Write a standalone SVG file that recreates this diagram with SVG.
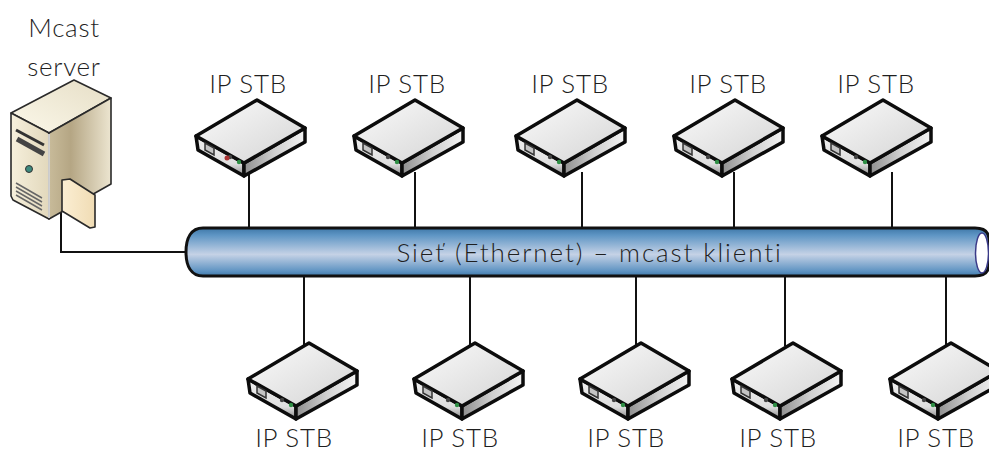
<svg xmlns="http://www.w3.org/2000/svg" width="989" height="452" viewBox="0 0 989 452">
<style>
text{font-family:"Lato","Open Sans","Liberation Sans",sans-serif;font-size:26px;fill:#1f1f1f;text-anchor:middle;font-weight:300;letter-spacing:.7px}
.w{fill:none;stroke:#111;stroke-width:2}
.o{stroke:#0c0c0c;stroke-width:3.500;stroke-linejoin:round}
.s{stroke:#2a2a2a;stroke-width:1.600;stroke-linejoin:round}
</style>
<defs>
<linearGradient id="pipe" x1="0" y1="0" x2="0" y2="1"><stop offset="0" stop-color="#3f78a8"/><stop offset=".15" stop-color="#5e95c4"/><stop offset=".55" stop-color="#c5d2e6"/><stop offset=".9" stop-color="#5e93c2"/><stop offset="1" stop-color="#3f78a8"/></linearGradient>
<linearGradient id="top" x1="0" y1="0" x2="1" y2="1"><stop offset="0" stop-color="#fbfbfb"/><stop offset="1" stop-color="#d4d4d4"/></linearGradient>
<linearGradient id="side" x1="0" y1="0" x2="1" y2="0"><stop offset="0" stop-color="#8f8f8f"/><stop offset=".5" stop-color="#cfcfcf"/><stop offset="1" stop-color="#f4f4f4"/></linearGradient>
<linearGradient id="front" x1="0" y1="0" x2="0" y2="1"><stop offset="0" stop-color="#f0f0f0"/><stop offset=".7" stop-color="#dedede"/><stop offset="1" stop-color="#888"/></linearGradient>
<linearGradient id="stop" x1="0" y1="1" x2="1" y2="0"><stop offset="0" stop-color="#fbf8ea"/><stop offset="1" stop-color="#e6dec6"/></linearGradient>
<linearGradient id="sside" x1="0" y1="0" x2="1" y2="0"><stop offset="0" stop-color="#c8bb9a"/><stop offset=".35" stop-color="#b5a684"/><stop offset="1" stop-color="#ece5d0"/></linearGradient>
<linearGradient id="sfront" x1="0" y1="0" x2="1" y2="0"><stop offset="0" stop-color="#f6f0dc"/><stop offset="1" stop-color="#e2d8bc"/></linearGradient>
<linearGradient id="card" x1="0" y1="0" x2="1" y2="0"><stop offset="0" stop-color="#fbeed3"/><stop offset="1" stop-color="#f0dcb4"/></linearGradient>
<symbol id="stb" width="112" height="80" viewBox="0 0 112 80" overflow="visible">
<path class="o" fill="url(#front)" d="M0 36L2 50L48 76V63Z"/>
<path class="o" fill="url(#side)" d="M48 63L109 28V42L48 76Z"/>
<path class="o" fill="url(#top)" d="M0 36L61 0L109 28L48 63Z"/>
<path d="M9 43L18 48V55L9 50Z" fill="#c4c4c4" stroke="#333" stroke-width="1.500"/>
<circle cx="34" cy="57" r="2.200" fill="#444"/><circle cx="43" cy="62" r="2.200" fill="#2f8f45"/>
</symbol>
</defs>
<g id="connectors">
<path class="w" d="M61 182V252H187"/>
<path class="w" d="M249 172V229M415 172V229M582 172V229M734 172V229M892 172V229M304 275V346M470 275V346M636 275V346M785 275V346M946 275V346"/>
</g>
<g id="network">
<path fill="url(#pipe)" stroke="#111" stroke-width="3" d="M203 228H975Q989 228 989 240V264Q989 276 975 276H203C191 276 186 266 186 252C186 238 191 228 203 228Z"/>
<ellipse cx="982" cy="253" rx="6.500" ry="20" fill="#fff" stroke="#3a3a88" stroke-width="1.500"/>
<text x="589" y="262" textLength="385" lengthAdjust="spacing">Sieť (Ethernet) – mcast klienti</text>
</g>
<g id="server">
<text x="64" y="37">Mcast</text><text x="64" y="76">server</text>
<path class="s" fill="url(#stop)" d="M11 113L74 80L111 98L49 133Z"/>
<path class="s" fill="url(#sfront)" d="M11 113L49 133V219L13 200L11 196Z"/>
<path class="s" fill="url(#sside)" d="M49 133L111 98V184L49 219Z"/>
<path d="M49 134V218" stroke="#fff" stroke-width="1.500"/>
<path d="M16 130L44 145" stroke="#333" stroke-width="3"/><path d="M17 139L44 154" stroke="#444" stroke-width="5"/>
<circle cx="29" cy="169" r="3.500" fill="#3d8a7e" stroke="#333"/>
<path d="M16 183L42 198M16 187L42 202M16 191L42 206M16 195L42 210" stroke="#666" stroke-width="1.500"/>
<path class="s" fill="url(#card)" d="M62 180L70 179L95 195V227L90 228L62 211Z"/>
</g>
<g id="stb-t1"><use href="#stb" x="196" y="100"/><text x="248" y="93">IP STB</text><circle cx="227" cy="158" r="2.500" fill="#a33"/></g>
<g id="stb-t2"><use href="#stb" x="354" y="100"/><text x="407" y="93">IP STB</text></g>
<g id="stb-t3"><use href="#stb" x="516" y="100"/><text x="570" y="93">IP STB</text></g>
<g id="stb-t4"><use href="#stb" x="674" y="100"/><text x="728" y="93">IP STB</text></g>
<g id="stb-t5"><use href="#stb" x="822" y="100"/><text x="876" y="93">IP STB</text></g>
<g id="stb-b1"><use href="#stb" x="248" y="343"/><text x="294" y="446.500">IP STB</text></g>
<g id="stb-b2"><use href="#stb" x="414" y="343"/><text x="460" y="446.500">IP STB</text></g>
<g id="stb-b3"><use href="#stb" x="580" y="343"/><text x="626" y="446.500">IP STB</text></g>
<g id="stb-b4"><use href="#stb" x="732" y="343"/><text x="778" y="446.500">IP STB</text></g>
<g id="stb-b5"><use href="#stb" x="890" y="343"/><text x="936" y="446.500">IP STB</text></g>
</svg>
